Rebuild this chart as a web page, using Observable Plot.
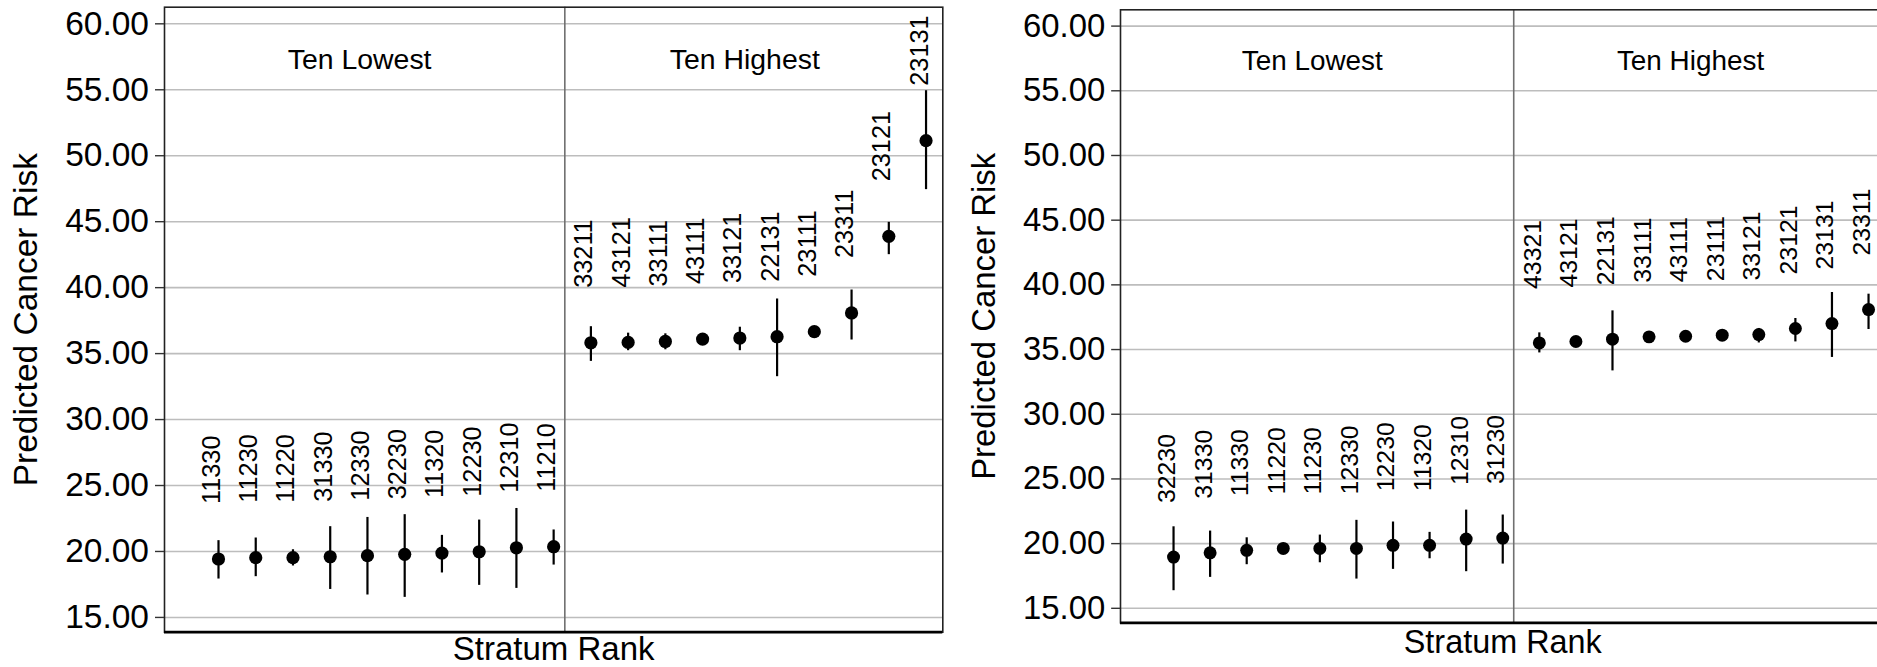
<!DOCTYPE html>
<html>
<head>
<meta charset="utf-8">
<script src="https://cdn.jsdelivr.net/npm/d3@7"></script>
<script src="https://cdn.jsdelivr.net/npm/@observablehq/plot@0.6"></script>
<style>
  html, body { margin: 0; padding: 0; background: #fff; overflow: hidden; }
  #wrap { position: relative; width: 1877px; height: 667px; overflow: hidden; background: #fff; }
  #wrap > div, #wrap > svg { position: absolute; top: 0; }
</style>
</head>
<body>
<div id="wrap"></div>
<script>
// ---------- Data: chart A (left) ----------
const codesA = ["11330","11230","11220","31330","12330","32230","11320","12230","12310","11210",
                "33211","43121","33111","43111","33121","22131","23111","23311","23121","23131"];
const estA = [19.43, 19.53, 19.53, 19.60, 19.68, 19.78, 19.88, 19.98, 20.28, 20.36,
              35.82, 35.85, 35.92, 36.10, 36.18, 36.28, 36.66, 38.08, 43.89, 51.14];
const loA  = [17.91, 18.09, 18.90, 17.12, 16.70, 16.52, 18.37, 17.43, 17.20, 18.97,
              34.41, 35.22, 35.29, 35.90, 35.22, 33.25, 36.40, 36.03, 42.50, 47.43];
const hiA  = [20.82, 21.02, 20.13, 21.88, 22.58, 22.79, 21.22, 22.38, 23.26, 21.63,
              37.04, 36.55, 36.50, 36.30, 37.00, 39.14, 36.90, 39.82, 44.95, 54.93];

// ---------- Data: chart B (right) ----------
const codesB = ["32230","31330","11330","11220","11230","12330","12230","11320","12310","31230",
                "43321","43121","22131","33111","43111","23111","33121","23121","23131","23311"];
const estB = [18.96, 19.29, 19.48, 19.63, 19.63, 19.63, 19.87, 19.87, 20.35, 20.43,
              35.51, 35.62, 35.80, 35.98, 36.03, 36.11, 36.16, 36.63, 37.01, 38.09];
const loB  = [16.36, 17.39, 18.37, 19.19, 18.52, 17.26, 18.01, 18.83, 17.83, 18.42,
              34.74, 35.35, 33.35, 35.70, 35.75, 35.85, 35.51, 35.59, 34.39, 36.55];
const hiB  = [21.30, 20.97, 20.45, 20.02, 20.66, 21.80, 21.67, 20.87, 22.59, 22.21,
              36.29, 35.90, 37.99, 36.25, 36.30, 36.38, 36.63, 37.40, 39.41, 39.28];

// ---------- Labels / ticks ----------
const panelNames = ["Ten Lowest", "Ten Highest"];
const yTicks = [15, 20, 25, 30, 35, 40, 45, 50, 55, 60];
const yLabel = "Predicted Cancer Risk";
const xLabel = "Stratum Rank";

const xDomain = [-0.45, 20.45];
const yDomain = [13.88, 61.26];
const panelBreak = 10.3;

function rows(codes, est, lo, hi) {
  return codes.map((c, i) => ({rank: i + 1, code: c, est: est[i], lo: lo[i], hi: hi[i]}));
}

function chart(data, o) {
  const s = o.s;
  const font = "Liberation Sans, Arial, Helvetica, sans-serif";
  return Plot.plot({
    width: o.width,
    height: 667,
    marginLeft: o.ml,
    marginRight: o.mr,
    marginTop: o.mt,
    marginBottom: o.mb,
    style: {fontFamily: font, background: "transparent", color: "black", overflow: "visible"},
    x: {domain: xDomain, axis: null},
    y: {domain: yDomain, axis: null},
    marks: [
      Plot.gridY(yTicks, {stroke: "#bdbdbd", strokeOpacity: 1, strokeWidth: 1.6}),
      Plot.ruleX([panelBreak], {stroke: "#707070", strokeWidth: 1.6}),
      Plot.frame({stroke: "#222", strokeWidth: 1.6}),
      Plot.ruleY([yDomain[0]], {stroke: "black", strokeWidth: 2.8}),
      Plot.ruleX(data, {x: "rank", y1: "lo", y2: "hi", stroke: "black", strokeWidth: 2.2}),
      Plot.dot(data, {x: "rank", y: "est", r: 6.6 * s, fill: "black", stroke: "none"}),
      Plot.text(data, {
        x: "rank", y: "est", text: "code", rotate: -90,
        textAnchor: "start", lineAnchor: "bottom",
        dy: -55 * s, dx: 1.5 * s, fontSize: 25.3 * s, fill: "black"
      }),
      Plot.text([panelNames[0]], {
        x: () => (xDomain[0] + panelBreak) / 2, text: d => d,
        frameAnchor: "top", lineAnchor: "bottom", dy: o.headDy, dx: -5 * s,
        fontSize: 28.4 * s, fill: "black"
      }),
      Plot.text([panelNames[1]], {
        x: () => (panelBreak + xDomain[1]) / 2, text: d => d,
        frameAnchor: "top", lineAnchor: "bottom", dy: o.headDy, dx: -9 * s,
        fontSize: 28.4 * s, fill: "black"
      }),
      Plot.axisY(yTicks, {
        anchor: "left", label: null, tickSize: 9 * s, tickPadding: 6.5 * s,
        tickFormat: d3.format(".2f"), fontSize: 33.5 * s, stroke: "#333", strokeWidth: 1.4, fill: "black"
      }),
      Plot.text([yLabel], {
        frameAnchor: "left", rotate: -90, text: d => d, dx: o.yLabDx,
        textAnchor: "middle", lineAnchor: "middle", fontSize: 33.5 * s, fill: "black"
      }),
      Plot.text([xLabel], {
        frameAnchor: "bottom", text: d => d, dy: o.xLabDy,
        lineAnchor: "bottom", fontSize: 33 * s, fill: "black"
      })
    ]
  });
}

const wrap = document.getElementById("wrap");

const chartA = chart(rows(codesA, estA, loA, hiA), {
  s: 1, width: 955, ml: 164, mr: 12.7, mt: 6.7, mb: 35.3,
  headDy: 61.6, yLabDx: -138, xLabDy: 28
});
chartA.style.left = "0px";
chartA.style.position = "absolute";
wrap.appendChild(chartA);

const chartB = chart(rows(codesB, estB, loB, hiB), {
  s: 0.982, width: 940, ml: 165, mr: 10.5, mt: 9.3, mb: 44.7,
  headDy: 60, yLabDx: -135.6, xLabDy: 30.4
});
chartB.style.left = "955px";
chartB.style.position = "absolute";
wrap.appendChild(chartB);
</script>
</body>
</html>
